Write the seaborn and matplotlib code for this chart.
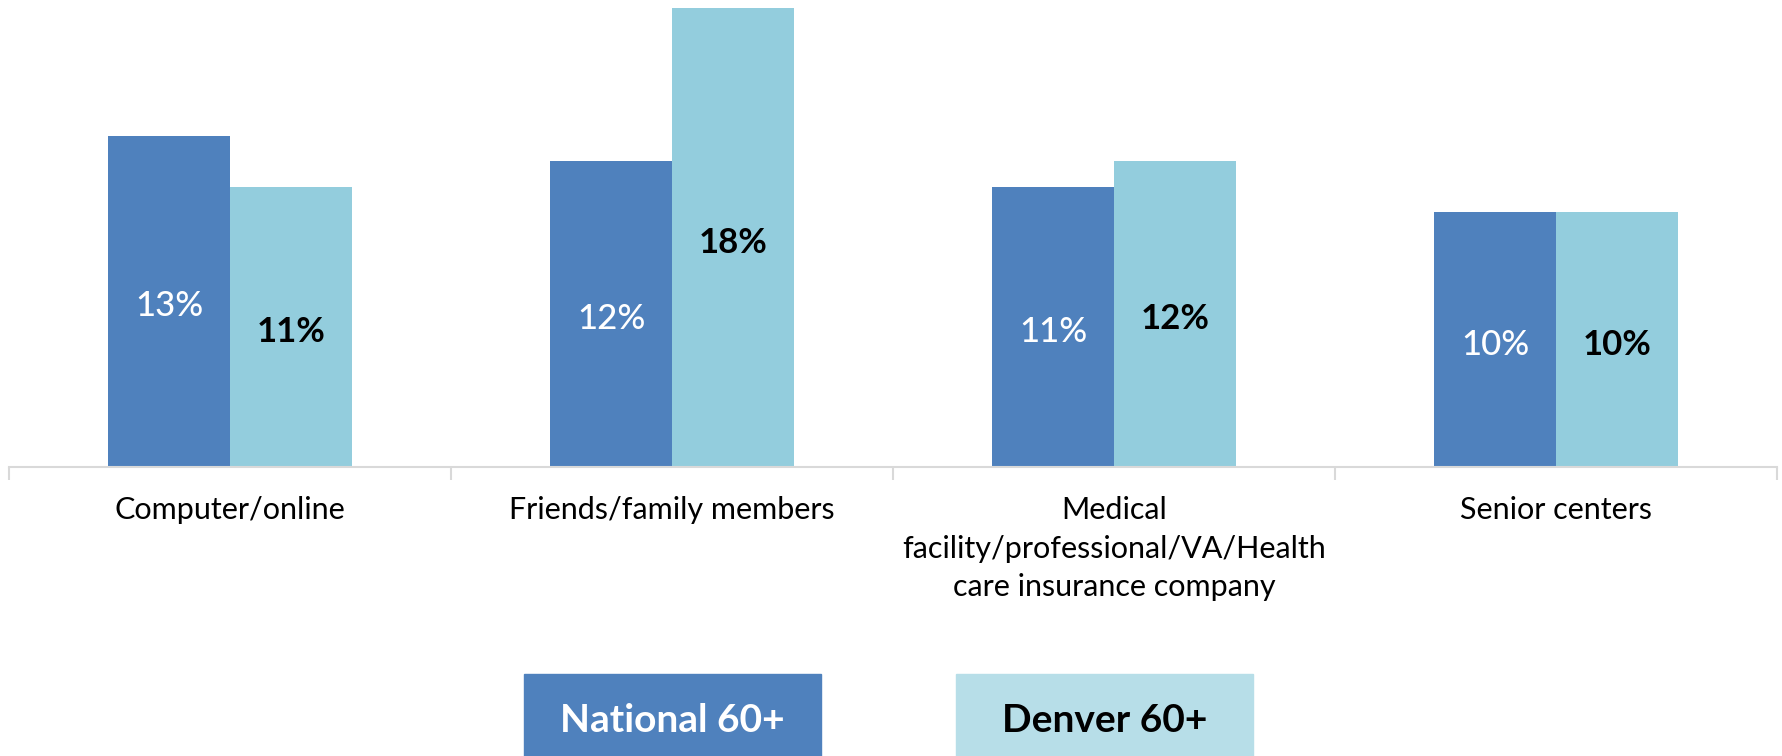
import pandas as pd
import matplotlib
matplotlib.use("Agg")
import matplotlib.pyplot as plt
from matplotlib.patches import Rectangle
import seaborn as sns

# --- dados ---
categorias = ["Computer/online", "Friends/family members",
              "Medical\nfacility/professional/VA/Health\ncare insurance company",
              "Senior centers"]
national_60 = [13, 12, 11, 10]
denver_60 = [11, 18, 12, 10]
grupos = ["National 60+", "Denver 60+"]

cor_national = "#4F81BD"
cor_denver = "#93CDDD"
cor_denver_leg = "#B7DEE8"

df = pd.DataFrame({
    "categoria": categorias * 2,
    "valor": national_60 + denver_60,
    "grupo": [grupos[0]] * len(categorias) + [grupos[1]] * len(categorias),
})

sns.set_theme(style="white")
plt.rcParams["font.family"] = ["Lato", "DejaVu Sans"]

fig = plt.figure(figsize=(17.83, 7.56), dpi=100)
ax = fig.add_axes([9 / 1783, 1 - 467 / 756, 1768 / 1783, 467 / 756])

sns.barplot(data=df, x="categoria", y="valor", hue="grupo",
            palette=[cor_national, cor_denver], width=0.55, saturation=1,
            legend=False, ax=ax, linewidth=0)

ax.set_xlim(-0.5, 3.5)
ax.set_ylim(0, 467 / 25.5)
ax.set_xlabel("")
ax.set_ylabel("")
ax.set_yticks([])
for lado in ["top", "left", "right"]:
    ax.spines[lado].set_visible(False)
ax.spines["bottom"].set_color("#D9D9D9")
ax.spines["bottom"].set_linewidth(1.5)

ax.set_xticks(range(len(categorias)))
ax.set_xticklabels(categorias, fontsize=22, color="#000000", linespacing=1.45, va="top")
ax.tick_params(axis="x", which="major", length=0, pad=21)
ax.set_xticks([i - 0.5 for i in range(len(categorias) + 1)], minor=True)
ax.tick_params(axis="x", which="minor", bottom=True, length=9, width=1.5,
               color="#D9D9D9", direction="out")

# rótulos dentro das barras
largura = 0.55 / 2
for i, (n, d) in enumerate(zip(national_60, denver_60)):
    ax.text(i - largura / 2, n / 2 - 0.2, f"{n}%", ha="center", va="center",
            fontsize=25, color="white", fontweight="medium")
    ax.text(i + largura / 2, d / 2 - 0.2, f"{d}%", ha="center", va="center",
            fontsize=25, color="black", fontweight="bold")

# legenda em caixas
fig.patches.append(Rectangle((524 / 1783, 0), 297 / 1783, 82 / 756,
                             transform=fig.transFigure, color=cor_national, zorder=0))
fig.patches.append(Rectangle((956 / 1783, 0), 297 / 1783, 82 / 756,
                             transform=fig.transFigure, color=cor_denver_leg, zorder=0))
fig.text(672.5 / 1783, 36 / 756, grupos[0], ha="center", va="center",
         fontsize=28, fontweight="bold", color="white")
fig.text(1104.5 / 1783, 36 / 756, grupos[1], ha="center", va="center",
         fontsize=28, fontweight="bold", color="black")

fig.savefig("out.png", dpi=100)
